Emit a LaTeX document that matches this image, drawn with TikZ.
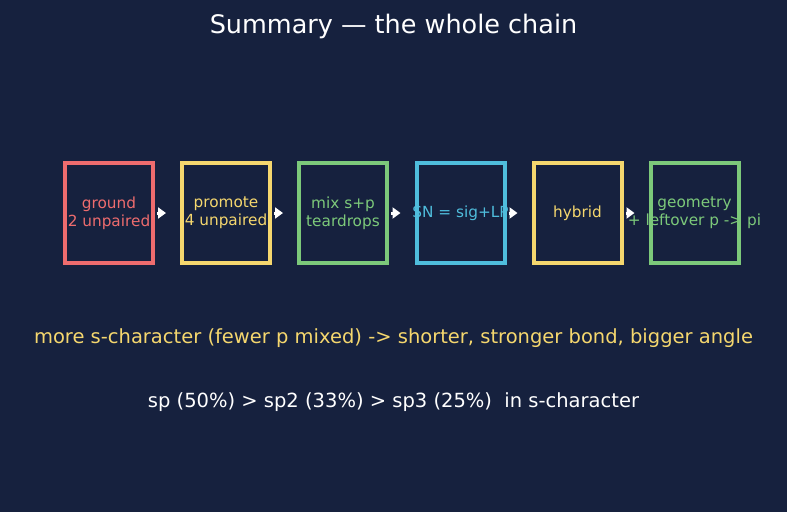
\documentclass[tikz,border=0pt]{standalone}
\usepackage{fontspec}
\setmainfont{DejaVu Sans}
\usetikzlibrary{arrows.meta}
\definecolor{bg}{HTML}{16213E}
\definecolor{cred}{HTML}{EE6C6E}
\definecolor{cyel}{HTML}{F5D76E}
\definecolor{cgrn}{HTML}{7CC97A}
\definecolor{cblu}{HTML}{4FBDDC}
\begin{document}
\begin{tikzpicture}[x=1pt,y=-1pt,
  stepbox/.style={draw=#1,line width=4pt,minimum width=88pt,minimum height=100pt,inner sep=0pt},
  boxtxt/.style={text=#1,font=\fontsize{15.3}{17.7}\selectfont,align=center,inner sep=0pt},
  arr/.style={draw=white,line width=3pt,-{Triangle[width=11pt,length=8pt]}},
  title/.style={text=white,font=\fontsize{25.5}{30}\selectfont},
  note/.style={font=\fontsize{19.5}{23}\selectfont}]
\fill[bg] (0,0) rectangle (787,512);
\useasboundingbox (0,0) rectangle (787,512);
\node[title] (t) at (393.5,26) {Summary — the whole chain};
\node[stepbox=cred] (b1) at (109,213) {};
\node[stepbox=cyel] (b2) at (226,213) {};
\node[stepbox=cgrn] (b3) at (343,213) {};
\node[stepbox=cblu] (b4) at (460.5,213) {};
\node[stepbox=cyel] (b5) at (577.5,213) {};
\node[stepbox=cgrn] (b6) at (694.5,213) {};
\foreach \a/\b in {b1/b2,b2/b3,b3/b4,b4/b5,b5/b6}
  \draw[arr] ([xshift=2pt]\a.east) -- ([xshift=-14pt]\b.west);
\node[boxtxt=cred] (l1) at (b1) {ground\\2 unpaired};
\node[boxtxt=cyel] (l2) at (b2) {promote\\4 unpaired};
\node[boxtxt=cgrn] (l3) at (b3) {mix s+p\\teardrops};
\node[boxtxt=cblu] (l4) at (b4) {SN = sig+LP};
\node[boxtxt=cyel] (l5) at (b5) {hybrid};
\node[boxtxt=cgrn] (l6) at (b6) {geometry\\+ leftover p -> pi};
\node[note,text=cyel] (n1) at (393.5,338) {more s-character (fewer p mixed) -> shorter, stronger bond, bigger angle};
\node[note,text=white] (n2) at (393.5,402) {sp (50\%) > sp2 (33\%) > sp3 (25\%) \ in s-character};
\end{tikzpicture}
\end{document}
